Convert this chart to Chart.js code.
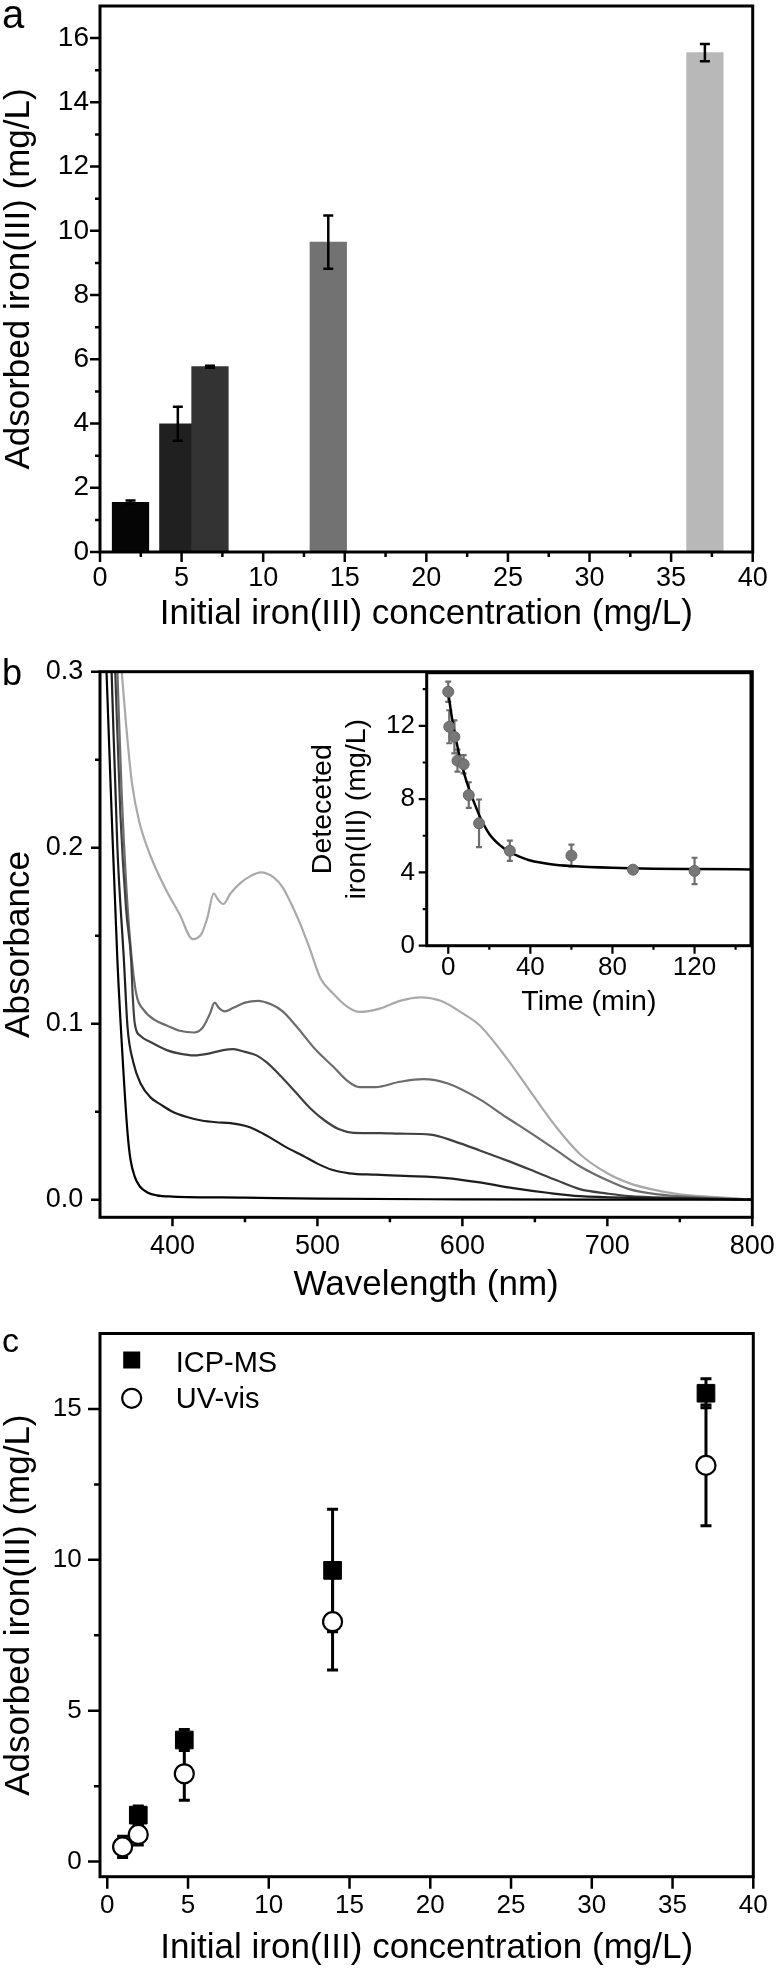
<!DOCTYPE html>
<html><head><meta charset="utf-8">
<script src="https://cdn.jsdelivr.net/npm/chart.js@4.4.1/dist/chart.umd.min.js"></script>
<style>
html,body{margin:0;padding:0;background:#fff;}
#wrap{position:relative;width:780px;height:1974px;overflow:hidden;background:#fff;}
canvas{position:absolute;left:0;}
</style></head><body>
<div id="wrap">
<canvas id="ca" width="780" height="650" style="top:0px"></canvas>
<canvas id="cb" width="780" height="670" style="top:650px"></canvas>
<canvas id="cin" width="460" height="370" style="top:660px;left:300px"></canvas>
<canvas id="cc" width="780" height="654" style="top:1320px"></canvas>
</div>
<script>
// ================= DATA =================
// Panel a : adsorbed iron (bars, ICP-MS)
const concA = [1.87, 4.77, 6.74, 13.99, 37.07];
const adsA  = [1.55, 3.99, 5.77, 9.65, 15.55];
const errA  = [0.05, 0.53, 0.03, 0.83, 0.27];
const xTicksA = [0, 5, 10, 15, 20, 25, 30, 35, 40];
const xLabelsA = ['0', '5', '10', '15', '20', '25', '30', '35', '40'];
const xMinorA = [2.5, 7.5, 12.5, 17.5, 22.5, 27.5, 32.5, 37.5];
const yTicksA = [0, 2, 4, 6, 8, 10, 12, 14, 16];
const yLabelsA = ['0', '2', '4', '6', '8', '10', '12', '14', '16'];
const yMinorA = [1, 3, 5, 7, 9, 11, 13, 15];

// Panel b : UV-vis spectra  [wavelength (nm), absorbance]
const spectrum1 = [[354.5,0.30],[358,0.22],[362,0.136],[366,0.075],[369,0.038],[371,0.023],[374,0.013],[377.5,0.0075],[383,0.004],[389,0.0025],[400,0.0018],[450,0.0012],[500,0.0006],[600,0.0002],[700,0.0],[800,0.0]];
const spectrum2 = [[358,0.30],[362,0.2],[366.5,0.136],[369,0.098],[373,0.078],[378,0.066],[385,0.058],[392,0.054],[400,0.050],[410,0.047],[420,0.045],[430,0.044],[440,0.0435],[450,0.042],[458,0.0395],[468,0.035],[478,0.030],[490,0.025],[500,0.0205],[510,0.017],[522,0.015],[540,0.0142],[560,0.0135],[589,0.0123],[612,0.0098],[635,0.0066],[660,0.0038],[681,0.002],[720,0.001],[800,0.0]];
const spectrum3 = [[360.5,0.30],[364,0.22],[368,0.165],[371.5,0.136],[372.5,0.117],[374,0.100],[378,0.093],[385,0.0895],[396,0.085],[405,0.083],[415,0.082],[425,0.083],[435,0.085],[442,0.0855],[450,0.084],[458,0.082],[465,0.078],[475,0.070],[485,0.061],[495,0.052],[505,0.045],[515,0.040],[525,0.038],[543,0.0378],[557,0.0375],[578,0.037],[595,0.033],[612,0.028],[630,0.0225],[647,0.017],[665,0.011],[681,0.006],[700,0.0035],[715,0.002],[750,0.001],[800,0.0]];
const spectrum4 = [[362,0.30],[365,0.23],[368,0.18],[371,0.145],[375,0.117],[380,0.108],[388,0.102],[396,0.099],[405,0.096],[415,0.095],[421,0.098],[426,0.106],[429,0.112],[432,0.109],[436,0.107],[442,0.109],[450,0.112],[459,0.113],[468,0.111],[476,0.107],[485,0.099],[499,0.085],[511,0.0755],[520,0.068],[529,0.064],[540,0.064],[557,0.067],[573,0.0685],[590,0.066],[612,0.057],[630,0.047],[647,0.038],[665,0.028],[681,0.019],[700,0.011],[715,0.006],[735,0.003],[760,0.0015],[800,0.0]];
const spectrum5 = [[365,0.30],[368,0.27],[372,0.237],[377,0.215],[385,0.195],[395,0.177],[405,0.162],[414,0.148],[420,0.151],[424,0.160],[428.5,0.174],[431,0.171],[435,0.168],[440,0.174],[447,0.180],[454,0.184],[461,0.186],[470,0.183],[476,0.1775],[482,0.168],[488,0.157],[495,0.142],[502,0.126],[511,0.117],[520,0.110],[529,0.1067],[543,0.1086],[557,0.113],[571,0.115],[585,0.113],[600,0.106],[612,0.099],[630,0.081],[646.5,0.062],[665,0.041],[681,0.026],[700,0.015],[715,0.0094],[730,0.006],[750,0.003],[775,0.0015],[800,0.0]];
const xTicksB = [400, 500, 600, 700, 800];
const xLabelsB = ['400', '500', '600', '700', '800'];
const xMinorB = [450, 550, 650, 750];
const yTicksB = [0, 0.1, 0.2, 0.3];
const yLabelsB = ['0.0', '0.1', '0.2', '0.3'];
const yMinorB = [0.05, 0.15, 0.25];

// Inset : detected iron vs time
const timeIn = [0, 0.5, 3, 4.5, 7.5, 10, 15, 30, 60, 90, 120];
const ironIn = [13.86, 11.95, 11.4, 10.1, 9.9, 8.22, 6.68, 5.18, 4.92, 4.15, 4.08];
const errIn  = [0.55, 0.9, 0.9, 0.6, 0.5, 0.7, 1.3, 0.55, 0.6, 0.15, 0.72];
const fitTime = [0, 2, 5, 8, 10, 13, 16, 20, 25, 30, 35, 40, 50, 60, 80, 100, 120, 150];
const fitIron = [13.8, 12.3, 10.6, 9.3, 8.6, 7.7, 6.9, 6.1, 5.5, 5.1, 4.85, 4.65, 4.45, 4.35, 4.25, 4.2, 4.18, 4.16];
const xTicksIn = [0, 40, 80, 120];
const xLabelsIn = ['0', '40', '80', '120'];
const xMinorIn = [20, 60, 100, 140];
const yTicksIn = [0, 4, 8, 12];
const yLabelsIn = ['0', '4', '8', '12'];
const yMinorIn = [2, 6, 10, 14];

// Panel c : ICP-MS vs UV-vis
const concIcp = [1.92, 4.77, 13.95, 37.07];
const adsIcp  = [1.54, 4.03, 9.65, 15.52];
const errIcp  = [0.3, 0.35, 2.03, 0.48];
const concUv  = [0.95, 1.92, 4.77, 13.95, 37.07];
const adsUv   = [0.49, 0.9, 2.91, 7.95, 13.13];
const errUv   = [0.35, 0.35, 0.88, 1.6, 2.0];
const legendLabelsC = ['ICP-MS', 'UV-vis'];
const xTicksC = [0, 5, 10, 15, 20, 25, 30, 35, 40];
const xLabelsC = ['0', '5', '10', '15', '20', '25', '30', '35', '40'];
const yTicksC = [0, 5, 10, 15];
const yLabelsC = ['0', '5', '10', '15'];
const yMinorC = [2.5, 7.5, 12.5];

// ================= HELPERS =================
const FAM = "'Liberation Sans', Arial, Helvetica, sans-serif";
Chart.defaults.font.family = FAM;
Chart.defaults.color = '#000';
Chart.defaults.animation = false;

function axis(o) {
  return {
    type: 'linear', min: o.min, max: o.max, offset: false,
    grid: { display: false, drawTicks: false },
    border: { display: false },
    ticks: {
      font: { size: o.fs }, color: '#000', padding: o.pad, autoSkip: false, maxRotation: 0, minRotation: 0,
      callback: (v, i) => o.labels[i]
    },
    title: { display: true, text: o.title, color: '#000', font: { size: o.tfs, lineHeight: o.tlh || 1.2 }, padding: o.tpad },
    afterBuildTicks: s => { s.ticks = o.ticks.map(v => ({ value: v })); },
    afterFit: s => {
      if (s.isHorizontal()) s.height = o.size; else s.width = o.size;
      s.paddingLeft = 0; s.paddingRight = 0; s.paddingTop = 0; s.paddingBottom = 0;
    }
  };
}

function framePlugin(cfg) {
  return {
    id: 'frame',
    afterDraw(chart) {
      const { ctx, chartArea: a } = chart;
      const xs = chart.scales.x, ys = chart.scales.y;
      ctx.save();
      ctx.strokeStyle = '#000';
      ctx.lineWidth = cfg.tickW;
      ctx.beginPath();
      const tx = (vals, len) => vals.forEach(v => { const p = xs.getPixelForValue(v); ctx.moveTo(p, a.bottom); ctx.lineTo(p, a.bottom + len); });
      const ty = (vals, len) => vals.forEach(v => { const p = ys.getPixelForValue(v); ctx.moveTo(a.left, p); ctx.lineTo(a.left - len, p); });
      tx(cfg.xMajor, cfg.majLen); tx(cfg.xMinor || [], cfg.minLen);
      ty(cfg.yMajor, cfg.majLen); ty(cfg.yMinor || [], cfg.minLen);
      ctx.stroke();
      ctx.lineWidth = cfg.frameW;
      ctx.lineJoin = 'miter';
      ctx.strokeRect(a.left, a.top, a.right - a.left, a.bottom - a.top);
      if (cfg.letter) {
        ctx.fillStyle = '#000';
        ctx.font = cfg.letterSize + 'px ' + FAM;
        ctx.textBaseline = 'alphabetic'; ctx.textAlign = 'left';
        ctx.fillText(cfg.letter, cfg.letterX, cfg.letterY);
      }
      ctx.restore();
    }
  };
}

function errPlugin(cfg) {
  const draw = chart => {
    const { ctx } = chart; const xs = chart.scales.x, ys = chart.scales.y;
    ctx.save();
    cfg.sets.forEach(s => {
      ctx.strokeStyle = s.color; ctx.lineWidth = s.lw; ctx.lineCap = 'butt';
      s.x.forEach((xv, i) => {
        const px = xs.getPixelForValue(xv);
        const top = ys.getPixelForValue(s.y[i] + s.e[i]);
        const bot = ys.getPixelForValue(s.y[i] - s.e[i]);
        ctx.beginPath();
        ctx.moveTo(px, top); ctx.lineTo(px, bot);
        ctx.moveTo(px - s.cap / 2, top); ctx.lineTo(px + s.cap / 2, top);
        ctx.moveTo(px - s.cap / 2, bot); ctx.lineTo(px + s.cap / 2, bot);
        ctx.stroke();
      });
    });
    ctx.restore();
  };
  return {
    id: 'errbars',
    beforeDatasetsDraw(chart) { if (!cfg.after) draw(chart); },
    afterDatasetsDraw(chart) { if (cfg.after) draw(chart); }
  };
}

const common = { responsive: false, devicePixelRatio: 1, animation: false, events: [],
  plugins: { legend: { display: false }, tooltip: { enabled: false } } };

// ================= PANEL A =================
new Chart(document.getElementById('ca'), {
  type: 'bar',
  data: { datasets: [{
    data: concA.map((x, i) => ({ x: x, y: adsA[i] })),
    backgroundColor: ['#050505', '#202020', '#333333', '#727272', '#b8b8b8'],
    borderWidth: 0, barThickness: 36.6
  }] },
  options: Object.assign({}, common, {
    layout: { padding: { top: 6, right: 27.3, left: 0, bottom: 0 } },
    scales: {
      x: axis({ min: 0, max: 40, ticks: xTicksA, labels: xLabelsA, fs: 27, pad: 10.8, size: 98,
        title: 'Initial iron(III) concentration (mg/L)', tfs: 35, tpad: { top: 0, bottom: 14.5 } }),
      y: axis({ min: 0, max: 17, ticks: yTicksA, labels: yLabelsA, fs: 28, pad: 11, size: 100,
        title: 'Adsorbed iron(III) (mg/L)', tfs: 35, tlh: 1.12, tpad: { top: 0, bottom: 0 } })
    }
  }),
  plugins: [
    errPlugin({ after: true, sets: [{ x: concA, y: adsA, e: errA, color: '#000', lw: 2.5, cap: 10 }] }),
    framePlugin({ xMajor: xTicksA, xMinor: xMinorA, yMajor: yTicksA, yMinor: yMinorA, majLen: 10, minLen: 5,
      tickW: 2.5, frameW: 3, letter: 'a', letterSize: 40, letterX: 2, letterY: 28 })
  ]
});

// ================= PANEL B =================
const specColors = ['#000000', '#1e1e1e', '#404040', '#6c6c6c', '#a9a9a9'];
const spectra = [spectrum1, spectrum2, spectrum3, spectrum4, spectrum5];
new Chart(document.getElementById('cb'), {
  type: 'scatter',
  data: { datasets: spectra.map((sp, k) => ({
    data: sp.map(p => ({ x: p[0], y: p[1] })),
    showLine: true, pointRadius: 0, borderColor: specColors[k], borderWidth: 2.2,
    cubicInterpolationMode: 'monotone', fill: false
  })) },
  options: Object.assign({}, common, {
    layout: { padding: { top: 21.7, right: 27.7, left: 0, bottom: 0 } },
    scales: {
      x: axis({ min: 350, max: 800, ticks: xTicksB, labels: xLabelsB, fs: 27, pad: 13.2, size: 102.7,
        title: 'Wavelength (nm)', tfs: 35, tpad: { top: 0, bottom: 14 } }),
      y: axis({ min: -0.01, max: 0.3, ticks: yTicksB, labels: yLabelsB, fs: 27, pad: 16.7, size: 100,
        title: 'Absorbance', tfs: 35, tlh: 1.12, tpad: { top: 0, bottom: 0 } })
    }
  }),
  plugins: [
    framePlugin({ xMajor: xTicksB, xMinor: xMinorB, yMajor: yTicksB, yMinor: yMinorB, majLen: 9, minLen: 5,
      tickW: 2.5, frameW: 3, letter: 'b', letterSize: 36, letterX: 2, letterY: 35 })
  ]
});

// ================= INSET =================
new Chart(document.getElementById('cin'), {
  type: 'scatter',
  data: { datasets: [
    { data: fitTime.map((t, i) => ({ x: t, y: fitIron[i] })), showLine: true, pointRadius: 0,
      borderColor: '#000', borderWidth: 2.5, cubicInterpolationMode: 'monotone', order: 1 },
    { data: timeIn.map((t, i) => ({ x: t, y: ironIn[i] })), showLine: false, pointRadius: 5.5,
      pointBackgroundColor: '#777777', pointBorderColor: '#666666', pointBorderWidth: 1, order: 0 }
  ] },
  options: Object.assign({}, common, {
    layout: { padding: { top: 12.7, right: 9, left: 0, bottom: 0 } },
    scales: {
      x: axis({ min: -10.5, max: 147.5, ticks: xTicksIn, labels: xLabelsIn, fs: 26, pad: 6.7, size: 84.3,
        title: 'Time (min)', tfs: 28.5, tpad: { top: 0, bottom: 10.3 } }),
      y: axis({ min: 0, max: 14.9, ticks: yTicksIn, labels: yLabelsIn, fs: 26, pad: 11.7, size: 126.7,
        title: ['Deteceted', 'iron(III) (mg/L)'], tfs: 28.5, tpad: { top: 6, bottom: 0 } })
    }
  }),
  plugins: [
    errPlugin({ after: false, sets: [{ x: timeIn, y: ironIn, e: errIn, color: '#6e6e6e', lw: 2.2, cap: 6 }] }),
    framePlugin({ xMajor: xTicksIn, xMinor: xMinorIn, yMajor: yTicksIn, yMinor: yMinorIn, majLen: 8, minLen: 4,
      tickW: 2.2, frameW: 3 })
  ]
});

// ================= PANEL C =================
const legendPluginC = {
  id: 'legendC',
  afterDraw(chart) {
    const ctx = chart.ctx;
    ctx.save();
    ctx.fillStyle = '#000';
    ctx.fillRect(131.7 - 8.5, 40 - 8.5, 17, 17);
    ctx.beginPath(); ctx.arc(131.7, 78.3, 9.5, 0, Math.PI * 2);
    ctx.fillStyle = '#fff'; ctx.fill();
    ctx.lineWidth = 2.2; ctx.strokeStyle = '#000'; ctx.stroke();
    ctx.fillStyle = '#000';
    ctx.font = '29px ' + FAM;
    ctx.textAlign = 'left'; ctx.textBaseline = 'alphabetic';
    ctx.fillText(legendLabelsC[0], 175.7, 52);
    ctx.fillText(legendLabelsC[1], 175.7, 88.3);
    ctx.restore();
  }
};
new Chart(document.getElementById('cc'), {
  type: 'scatter',
  data: { datasets: [
    { label: legendLabelsC[0], data: concIcp.map((x, i) => ({ x: x, y: adsIcp[i] })), pointStyle: 'rect',
      pointRadius: 12.5, pointBackgroundColor: '#000', pointBorderColor: '#000', pointBorderWidth: 1, order: 1 },
    { label: legendLabelsC[1], data: concUv.map((x, i) => ({ x: x, y: adsUv[i] })), pointStyle: 'circle',
      pointRadius: 9.5, pointBackgroundColor: '#fff', pointBorderColor: '#000', pointBorderWidth: 2.2, order: 0 }
  ] },
  options: Object.assign({}, common, {
    layout: { padding: { top: 9.3, right: 26.7, left: 0, bottom: 0 } },
    scales: {
      x: axis({ min: -0.45, max: 40, ticks: xTicksC, labels: xLabelsC, fs: 26, pad: 13.5, size: 97.3,
        title: 'Initial iron(III) concentration (mg/L)', tfs: 35, tpad: { top: 0, bottom: 4.5 } }),
      y: axis({ min: -0.5, max: 17.5, ticks: yTicksC, labels: yLabelsC, fs: 26, pad: 18.3, size: 100,
        title: 'Adsorbed iron(III) (mg/L)', tfs: 35, tlh: 1.12, tpad: { top: 0, bottom: 0 } })
    }
  }),
  plugins: [
    errPlugin({ after: false, sets: [
      { x: concIcp, y: adsIcp, e: errIcp, color: '#000', lw: 3, cap: 11 },
      { x: concUv, y: adsUv, e: errUv, color: '#000', lw: 3, cap: 11 }
    ] }),
    framePlugin({ xMajor: xTicksC, xMinor: [], yMajor: yTicksC, yMinor: yMinorC, majLen: 12, minLen: 6,
      tickW: 2.5, frameW: 3, letter: 'c', letterSize: 34, letterX: 2, letterY: 31.7 }),
    legendPluginC
  ]
});
</script>
</body></html>
